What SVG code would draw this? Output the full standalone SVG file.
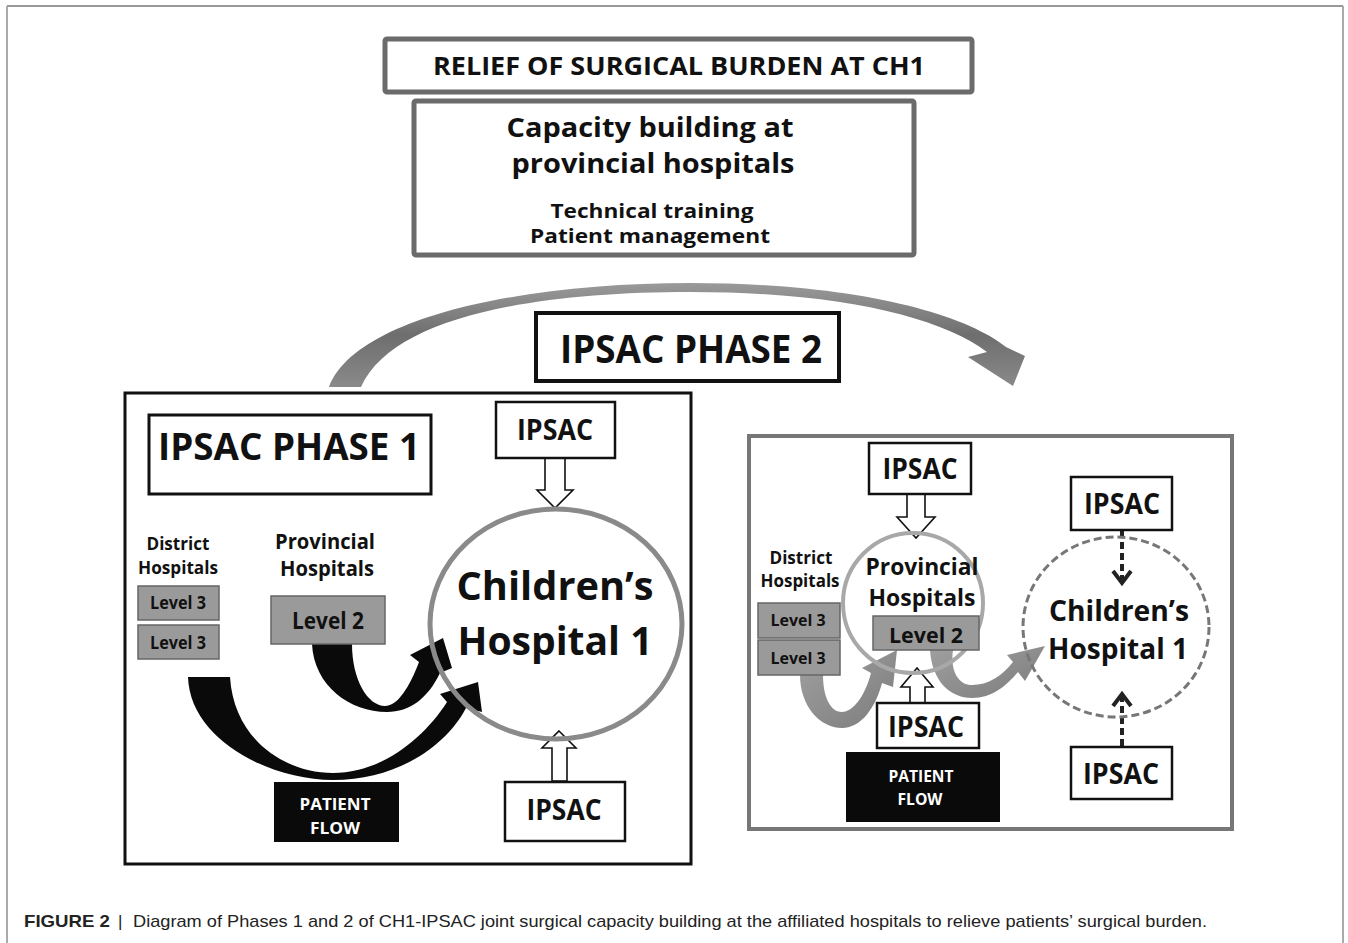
<svg xmlns="http://www.w3.org/2000/svg" width="1348" height="943" viewBox="0 0 1348 943">
<style>
.t{font-family:"Open Sans","Noto Sans","DejaVu Sans",sans-serif;font-weight:700;fill:#111;text-anchor:middle}
.w{fill:#fff}
.box{fill:#fff;stroke:#111;stroke-width:2.5}
.lvl{fill:#9a9a9a;stroke:#666;stroke-width:1.5}
.pf{fill:#0a0a0a}
.hollow{fill:#fff;stroke:#111;stroke-width:1.6;stroke-linejoin:miter}
.cap{font-family:"Liberation Sans",Arial,sans-serif;font-size:17px;fill:#222}
.dash{stroke:#222;stroke-width:4;fill:none}
</style>
<defs>
<linearGradient id="garc" x1="0" y1="0" x2="0" y2="1">
<stop offset="0" stop-color="#9a9a9a"/><stop offset="0.5" stop-color="#6e6e6e"/><stop offset="1" stop-color="#8a8a8a"/>
</linearGradient>
<linearGradient id="gp2" x1="0" y1="0" x2="1" y2="1">
<stop offset="0" stop-color="#a0a0a0"/><stop offset="1" stop-color="#7c7c7c"/>
</linearGradient>
</defs>
<rect width="1348" height="943" fill="#fff"/>
<g id="frame" fill="none">
<line x1="7" y1="6" x2="1343" y2="6" stroke="#777" stroke-width="1.5"/>
<line x1="7" y1="6" x2="7" y2="943" stroke="#aaa" stroke-width="2"/>
<line x1="1343" y1="6" x2="1343" y2="943" stroke="#aaa" stroke-width="2"/>
</g>

<g id="relief">
<rect x="385" y="39" width="587" height="53" rx="2" fill="#fff" stroke="#6b6b6b" stroke-width="5"/>
<text class="t" x="679" y="75" font-size="25" textLength="492" lengthAdjust="spacingAndGlyphs">RELIEF OF SURGICAL BURDEN AT CH1</text>
</g>
<g id="capacity">
<rect x="414" y="101" width="500" height="154" rx="2" fill="#fff" stroke="#6b6b6b" stroke-width="5"/>
<text class="t" x="650" y="137" font-size="26" textLength="287" lengthAdjust="spacingAndGlyphs">Capacity building at</text>
<text class="t" x="653" y="173" font-size="26" textLength="283" lengthAdjust="spacingAndGlyphs">provincial hospitals</text>
<text class="t" x="652" y="218" font-size="19" textLength="203" lengthAdjust="spacingAndGlyphs">Technical training</text>
<text class="t" x="650" y="243" font-size="19" textLength="240" lengthAdjust="spacingAndGlyphs">Patient management</text>
</g>

<g id="connectors">
<path d="M 329 387 C 355 318 520 283 690 283 C 850 283 962 312 1006 347 L 1025 356 L 1013 386 L 968 357 L 987 352 C 940 317 840 292 690 292 C 530 292 392 318 361 387 Z" fill="url(#garc)"/>
<path d="M 188 677 C 190 740 270 780 333 780 C 395 780 445 748 466 708 L 482 712 L 478 682 L 440 694 L 447 702 C 424 738 382 773 333 773 C 285 773 234 740 230 677 Z" fill="#0a0a0a"/>
<path d="M 312 644 C 314 686 350 712 387 712 C 410 712 428 698 440 673 L 452 668 L 443 638 L 410 655 L 419 662 C 410 686 398 706 385 706 C 368 706 352 680 352 644 Z" fill="#0a0a0a"/>
<polygon class="hollow" points="545,458 565,458 565,490 573,490 555,508 537,490 545,490"/>
<polygon class="hollow" points="559,731 576,748 567,748 567,781 552,781 552,748 542,748"/>
<path d="M 800 675 C 800 706 820 728 842 728 C 862 728 876 706 882 683 L 893 687 L 897 650 L 862 668 L 871 673 C 865 696 853 712 842 712 C 830 712 823 696 823 675 Z" fill="url(#gp2)"/>
<path d="M 930 650 C 932 681 950 698 972 698 C 992 698 1006 686 1018 672 L 1025 681 L 1045 646 L 1007 655 L 1013 662 C 1002 676 988 685 972 685 C 958 685 950 670 953 650 Z" fill="url(#gp2)"/>
<polygon class="hollow" points="907,494 925,494 925,517 935,517 916,538 897,517 907,517"/>
<polygon class="hollow" points="917,668 933,687 925,687 925,703 910,703 910,687 901,687"/>
<line class="dash" x1="1122" y1="531" x2="1122" y2="580" stroke-dasharray="7 4"/>
<polyline class="dash" points="1113,571 1122,583 1131,571" stroke-width="3.5"/>
<line class="dash" x1="1122" y1="746" x2="1122" y2="697" stroke-dasharray="7 4"/>
<polyline class="dash" points="1113,706 1122,694 1131,706" stroke-width="3.5"/>
</g>

<g id="phase2-label">
<rect x="536" y="313" width="303" height="68" fill="#fff" stroke="#111" stroke-width="4"/>
<text class="t" x="691" y="363" font-size="40" textLength="262" lengthAdjust="spacingAndGlyphs">IPSAC PHASE 2</text>
</g>

<g id="phase1-panel">
<rect x="125" y="393" width="566" height="471" fill="none" stroke="#111" stroke-width="3"/>
</g>
<g id="phase1-title">
<rect x="149" y="415" width="282" height="79" fill="#fff" stroke="#111" stroke-width="3"/>
<text class="t" x="289" y="460" font-size="38" textLength="262" lengthAdjust="spacingAndGlyphs">IPSAC PHASE 1</text>
</g>
<g id="p1-ipsac-top">
<rect class="box" x="496" y="402" width="119" height="56"/>
<text class="t" x="555" y="440" font-size="28" textLength="76" lengthAdjust="spacingAndGlyphs">IPSAC</text>
</g>
<g id="p1-ipsac-bottom">
<rect class="box" x="505" y="782" width="120" height="59"/>
<text class="t" x="564" y="820" font-size="28" textLength="75" lengthAdjust="spacingAndGlyphs">IPSAC</text>
</g>
<g id="p1-ch1">
<ellipse cx="556" cy="624" rx="126" ry="115" fill="none" stroke="#8a8a8a" stroke-width="5"/>
<text class="t" x="555" y="600" font-size="40" textLength="197" lengthAdjust="spacingAndGlyphs">Children’s</text>
<text class="t" x="555" y="655" font-size="40" textLength="195" lengthAdjust="spacingAndGlyphs">Hospital 1</text>
</g>
<g id="p1-district">
<text class="t" x="178" y="550" font-size="18" textLength="63" lengthAdjust="spacingAndGlyphs">District</text>
<text class="t" x="178" y="574" font-size="18" textLength="80" lengthAdjust="spacingAndGlyphs">Hospitals</text>
<rect class="lvl" x="138" y="586" width="81" height="34"/>
<text class="t" x="178" y="609" font-size="17" textLength="56" lengthAdjust="spacingAndGlyphs">Level 3</text>
<rect class="lvl" x="138" y="625" width="81" height="34"/>
<text class="t" x="178" y="649" font-size="17" textLength="56" lengthAdjust="spacingAndGlyphs">Level 3</text>
</g>
<g id="p1-provincial">
<text class="t" x="325" y="549" font-size="21" textLength="100" lengthAdjust="spacingAndGlyphs">Provincial</text>
<text class="t" x="327" y="576" font-size="21" textLength="94" lengthAdjust="spacingAndGlyphs">Hospitals</text>
<rect class="lvl" x="271" y="596" width="114" height="48"/>
<text class="t" x="328" y="629" font-size="23" textLength="72" lengthAdjust="spacingAndGlyphs">Level 2</text>
</g>
<g id="p1-patient-flow">
<rect class="pf" x="274" y="782" width="125" height="60"/>
<text class="t w" x="335" y="810" font-size="16" textLength="71" lengthAdjust="spacingAndGlyphs">PATIENT</text>
<text class="t w" x="335" y="834" font-size="16" textLength="50" lengthAdjust="spacingAndGlyphs">FLOW</text>
</g>

<g id="phase2-panel">
<rect x="749" y="436" width="483" height="393" fill="none" stroke="#777" stroke-width="4"/>
</g>
<g id="p2-provincial">
<circle cx="913" cy="603" r="70" fill="none" stroke="#a8a8a8" stroke-width="4"/>
<text class="t" x="922" y="575" font-size="23" textLength="113" lengthAdjust="spacingAndGlyphs">Provincial</text>
<text class="t" x="922" y="606" font-size="23" textLength="107" lengthAdjust="spacingAndGlyphs">Hospitals</text>
<rect class="lvl" x="873" y="616" width="106" height="34"/>
<text class="t" x="926" y="643" font-size="22" textLength="74" lengthAdjust="spacingAndGlyphs">Level 2</text>
</g>
<g id="p2-ipsac-top">
<rect class="box" x="869" y="443" width="102" height="51"/>
<text class="t" x="920" y="479" font-size="28" textLength="75" lengthAdjust="spacingAndGlyphs">IPSAC</text>
</g>
<g id="p2-district">
<text class="t" x="801" y="564" font-size="17" textLength="63" lengthAdjust="spacingAndGlyphs">District</text>
<text class="t" x="800" y="587" font-size="17" textLength="79" lengthAdjust="spacingAndGlyphs">Hospitals</text>
<rect class="lvl" x="758" y="603" width="82" height="35"/>
<text class="t" x="798" y="626" font-size="16" textLength="55" lengthAdjust="spacingAndGlyphs">Level 3</text>
<rect class="lvl" x="758" y="640" width="82" height="35"/>
<text class="t" x="798" y="664" font-size="16" textLength="55" lengthAdjust="spacingAndGlyphs">Level 3</text>
</g>
<g id="p2-ipsac-mid">
<rect class="box" x="877" y="703" width="102" height="45"/>
<text class="t" x="926" y="737" font-size="28" textLength="76" lengthAdjust="spacingAndGlyphs">IPSAC</text>
</g>
<g id="p2-patient-flow">
<rect class="pf" x="846" y="752" width="154" height="70"/>
<text class="t w" x="921" y="782" font-size="16" textLength="65" lengthAdjust="spacingAndGlyphs">PATIENT</text>
<text class="t w" x="920" y="805" font-size="16" textLength="45" lengthAdjust="spacingAndGlyphs">FLOW</text>
</g>
<g id="p2-ch1">
<ellipse cx="1116" cy="627" rx="93" ry="90" fill="none" stroke="#777" stroke-width="3" stroke-dasharray="8 4"/>
<text class="t" x="1119" y="621" font-size="28" textLength="140" lengthAdjust="spacingAndGlyphs">Children’s</text>
<text class="t" x="1118" y="659" font-size="28" textLength="140" lengthAdjust="spacingAndGlyphs">Hospital 1</text>
</g>
<g id="p2-ipsac-right-top">
<rect class="box" x="1071" y="477" width="101" height="53"/>
<text class="t" x="1122" y="514" font-size="28" textLength="76" lengthAdjust="spacingAndGlyphs">IPSAC</text>
</g>
<g id="p2-ipsac-right-bottom">
<rect class="box" x="1071" y="747" width="101" height="52"/>
<text class="t" x="1121" y="784" font-size="28" textLength="76" lengthAdjust="spacingAndGlyphs">IPSAC</text>
</g>

<g id="caption">
<text class="cap" x="24" y="927" font-weight="700" textLength="86" lengthAdjust="spacingAndGlyphs">FIGURE 2</text>
<text class="cap" x="118" y="927" fill="#666">|</text>
<text class="cap" x="133" y="927" textLength="1074" lengthAdjust="spacingAndGlyphs">Diagram of Phases 1 and 2 of CH1-IPSAC joint surgical capacity building at the affiliated hospitals to relieve patients’ surgical burden.</text>
</g>
</svg>
